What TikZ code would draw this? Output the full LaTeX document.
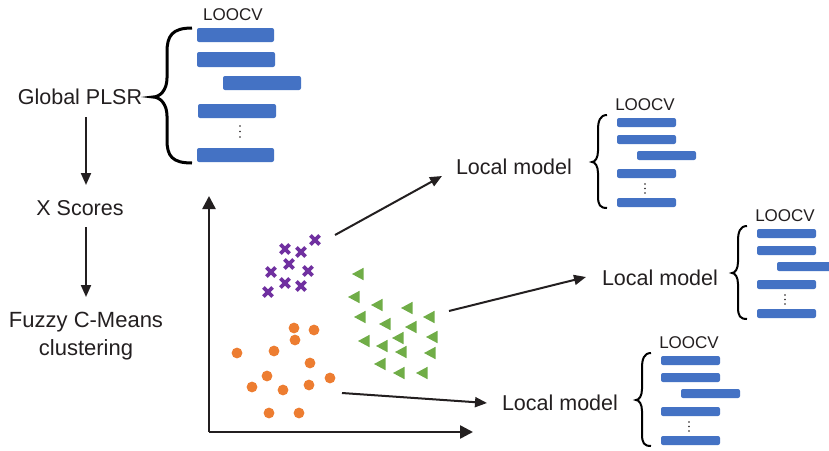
\documentclass[tikz,border=0pt]{standalone}
\usepackage{fontspec}
\setmainfont{Liberation Sans}
\usetikzlibrary{arrows.meta}
\definecolor{txt}{HTML}{231F20}
\definecolor{barblue}{HTML}{4472C4}
\definecolor{dotorange}{HTML}{ED7D31}
\definecolor{trigreen}{HTML}{70AD47}
\definecolor{xpurple}{HTML}{7030A0}
\tikzset{
  lbl/.style={text=txt,font=\fontsize{21.5}{28}\selectfont,inner sep=0pt,align=center},
  small/.style={text=txt,font=\fontsize{17}{20}\selectfont,inner sep=0pt},
  arr/.style={draw=txt,line width=2pt,-{Triangle[length=12pt,width=10pt]}},
  axis/.style={draw=txt,line width=2.5pt,-{Triangle[length=13pt,width=13pt]}},
  bar/.style={fill=barblue,rounded corners=2pt},
  brace/.style={draw=black,line width=2pt},
  crossmark/.style={draw=xpurple,line width=3.8pt},
  trimark/.style={fill=trigreen},
  circmark/.style={fill=dotorange},
}
\newcommand{\loocvsmall}[3]{%
  \node[small] (#3-t) at ({#1+28},{#2-13}) {LOOCV};
  \fill[bar] (#1,#2) rectangle ({#1+59},{#2+9});
  \fill[bar] (#1,{#2+17}) rectangle ({#1+59},{#2+26});
  \fill[bar] ({#1+20},{#2+33}) rectangle ({#1+79},{#2+42});
  \fill[bar] (#1,{#2+51}) rectangle ({#1+59},{#2+60});
  \fill[bar] (#1,{#2+80}) rectangle ({#1+59},{#2+89});
  \foreach \d in {66,70.5,75}{\fill[txt] ({#1+28},{#2+\d}) circle (0.8);}
  \draw[brace] ({#1-10},{#2-3}) .. controls ({#1-17},{#2-3}) and ({#1-19},{#2+3}) .. ({#1-19},{#2+12})
     -- ({#1-19},{#2+33}) .. controls ({#1-19},{#2+40}) and ({#1-22},{#2+44}) .. ({#1-25},{#2+44})
     .. controls ({#1-22},{#2+44}) and ({#1-19},{#2+48}) .. ({#1-19},{#2+55})
     -- ({#1-19},{#2+78}) .. controls ({#1-19},{#2+87}) and ({#1-17},{#2+90}) .. ({#1-10},{#2+90});
}
\begin{document}
\begin{tikzpicture}[x=1pt,y=-1pt]
\useasboundingbox (0,0) rectangle (829,450);
\fill[white] (0,0) rectangle (829,450);

% left flow
\node[lbl] (gp) at (80,97) {Global PLSR};
\node[lbl] (xs) at (80,208) {X Scores};
\node[lbl,font=\fontsize{22}{28}\selectfont] (fc) at (86,336) {Fuzzy C-Means\\clustering};
\coordinate (a1s) at (86,117);
\coordinate (a1e) at (86,185);
\coordinate (a2s) at (86,227);
\coordinate (a2e) at (86,297);
\draw[arr] (a1s) -- (a1e);
\draw[arr] (a2s) -- (a2e);

% big LOOCV block
\node[small] (bigt) at (233,15) {LOOCV};
\fill[bar] (197,28) rectangle (274,42);
\fill[bar] (197,52) rectangle (275,67);
\fill[bar] (223,76) rectangle (301,90);
\fill[bar] (198,104) rectangle (276,118);
\fill[bar] (197,148) rectangle (274,162);
\foreach \d in {126,131.5,137}{\fill[txt] (240,\d) circle (0.9);}
\draw[brace,line width=3pt] (192,28) .. controls (172,28) and (167,36) .. (167,52)
  -- (167,78) .. controls (167,90) and (160,97) .. (153,97)
  .. controls (160,97) and (167,104) .. (167,116)
  -- (167,140) .. controls (167,156) and (172,163) .. (192,163);

% axes
\coordinate (orig) at (209,432);
\coordinate (ytop) at (209,196);
\coordinate (xend) at (473,432);
\draw[axis] (orig) -- (ytop);
\draw[axis] (orig) -- (xend);

% crosses
\foreach \x/\y in {315/240,285/249,301/252,289/264,271/272,308/271,285/283,301/286,268/292}{
  \draw[crossmark] (\x-4.6,\y-4.6) -- (\x+4.6,\y+4.6);
  \draw[crossmark] (\x-4.6,\y+4.6) -- (\x+4.6,\y-4.6);
}
% triangles
\foreach \x/\y in {358/274,354/297,377/305,407/308,360/317,385/324,411/327,429/317,364/341,382/346,398/338,432/337,401/352,430/353,380/364,399/373,422/373}{
  \fill[trimark] (\x-6,\y) -- (\x+5.5,\y-6.2) -- (\x+5.5,\y+6.2) -- cycle;
}
% circles
\foreach \x/\y in {294/328,314/330,295/340,237/353,274/351,310/363,267/376,330/378,252/387,283/390,309/385,269/413,299/413}{
  \fill[circmark] (\x,\y) circle (5.4);
}

% local models
\node[lbl] (lm1) at (514,167) {Local model};
\node[lbl] (lm2) at (660,278) {Local model};
\node[lbl] (lm3) at (560,403) {Local model};
\coordinate (s1) at (335,235);
\coordinate (e1) at (442,176);
\coordinate (s2) at (449,311);
\coordinate (e2) at (586,277);
\coordinate (s3) at (342,393);
\coordinate (e3) at (487,403);
\draw[arr] (s1) -- (e1);
\draw[arr] (s2) -- (e2);
\draw[arr] (s3) -- (e3);

\loocvsmall{617}{118}{m1}
\loocvsmall{757}{229}{m2}
\loocvsmall{661}{356}{m3}
\end{tikzpicture}
\end{document}
